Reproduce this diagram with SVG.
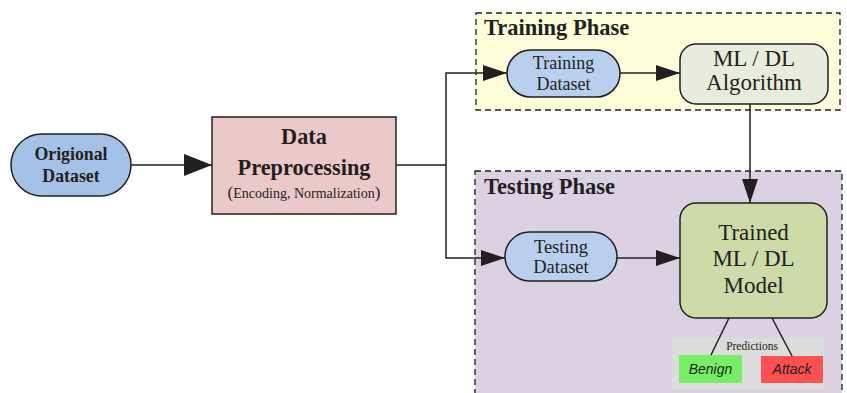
<svg xmlns="http://www.w3.org/2000/svg" width="847" height="393" viewBox="0 0 847 393">
<defs>
<style>
.ser{font-family:"Liberation Serif","Times New Roman",serif;fill:#231f20}
.b{font-weight:bold}
.edge{stroke:#231f20;stroke-width:1.5;fill:none}
.nd{stroke:#231f20;stroke-width:1.5}
.phase{stroke:#231f20;stroke-width:1.3;stroke-dasharray:6 4}
.lbl{font-family:"Liberation Sans",Arial,sans-serif;font-style:italic;font-size:14px;fill:#231f20}
</style>
<marker id="ah" markerUnits="userSpaceOnUse" markerWidth="30" markerHeight="24" refX="28" refY="11" orient="auto"><path d="M0,0 L28,11 L0,22 Z" fill="#231f20"/></marker>
<marker id="as" markerUnits="userSpaceOnUse" markerWidth="26" markerHeight="20" refX="24" refY="8" orient="auto"><path d="M0,0 L24,8 L0,16 Z" fill="#231f20"/></marker>
</defs>
<g id="training-phase">
<rect x="476" y="13" width="364" height="97" fill="#fdfdd9" class="phase"/>
<text x="484" y="35" class="ser b" font-size="22.5">Training Phase</text>
</g>
<g id="testing-phase">
<rect x="475" y="171" width="367" height="230" fill="#dcd1e3" class="phase"/>
<text x="484" y="194" class="ser b" font-size="22.5">Testing Phase</text>
</g>
<g id="origional-dataset">
<rect x="11" y="134" width="120" height="62" rx="31" fill="#a4c2e8" class="nd"/>
<text x="71" y="160" class="ser b" font-size="17.8" text-anchor="middle">Origional</text>
<text x="71" y="182" class="ser b" font-size="17.8" text-anchor="middle">Dataset</text>
</g>
<g id="data-preprocessing">
<rect x="212" y="117" width="184" height="97" fill="#ecc9c9" class="nd"/>
<text x="304" y="144" class="ser b" font-size="22.3" text-anchor="middle">Data</text>
<text x="304" y="175" class="ser b" font-size="22.3" text-anchor="middle">Preprocessing</text>
<text x="304" y="198" class="ser" font-size="14" text-anchor="middle"><tspan font-size="17">(</tspan>Encoding, Normalization<tspan font-size="17">)</tspan></text>
</g>
<g id="training-dataset">
<rect x="507" y="50" width="113" height="47" rx="23.5" fill="#b9cfee" class="nd"/>
<text x="563.5" y="69" class="ser" font-size="18" text-anchor="middle">Training</text>
<text x="563.5" y="90" class="ser" font-size="18" text-anchor="middle">Dataset</text>
</g>
<g id="ml-dl-algorithm">
<rect x="680" y="44" width="148" height="60" rx="16" fill="#e8ecdc" class="nd"/>
<text x="754" y="66" class="ser" font-size="23" text-anchor="middle">ML / DL</text>
<text x="754" y="90" class="ser" font-size="23" text-anchor="middle">Algorithm</text>
</g>
<g id="testing-dataset">
<rect x="505" y="232" width="112" height="49" rx="24.5" fill="#b9cfee" class="nd"/>
<text x="561" y="253" class="ser" font-size="18.5" text-anchor="middle">Testing</text>
<text x="561" y="273" class="ser" font-size="18.5" text-anchor="middle">Dataset</text>
</g>
<g id="trained-model">
<rect x="680" y="203" width="147" height="115" rx="16" fill="#cddba8" class="nd"/>
<text x="753.5" y="240" class="ser" font-size="23" text-anchor="middle">Trained</text>
<text x="753.5" y="266" class="ser" font-size="23" text-anchor="middle">ML / DL</text>
<text x="753.5" y="293" class="ser" font-size="23" text-anchor="middle">Model</text>
</g>
<g id="predictions">
<rect x="672" y="338" width="152" height="51" fill="#dcdcdc"/>
<text x="752" y="350" class="ser" font-size="11.5" text-anchor="middle" fill="#444">Predictions</text>
</g>
<g id="benign">
<rect x="679" y="355" width="63" height="28" fill="#77ee66"/>
<text x="710.5" y="374" class="lbl" text-anchor="middle">Benign</text>
</g>
<g id="attack">
<rect x="761" y="356" width="62" height="27" fill="#fd5050"/>
<text x="792" y="374" class="lbl" text-anchor="middle">Attack</text>
</g>
<g id="connectors">
<line x1="131" y1="165" x2="212" y2="165" class="edge" marker-end="url(#ah)"/>
<polyline points="396,165 446,165 446,73 507,73" class="edge" marker-end="url(#as)"/>
<polyline points="446,165 446,258 505,258" class="edge" marker-end="url(#as)"/>
<line x1="620" y1="73" x2="680" y2="73" class="edge" marker-end="url(#as)"/>
<line x1="617" y1="258" x2="680" y2="258" class="edge" marker-end="url(#as)"/>
<line x1="750" y1="104" x2="750" y2="203" class="edge" marker-end="url(#as)"/>
<line x1="729" y1="318" x2="711" y2="355" class="edge"/>
<line x1="772" y1="318" x2="792" y2="356" class="edge"/>
</g>
</svg>
